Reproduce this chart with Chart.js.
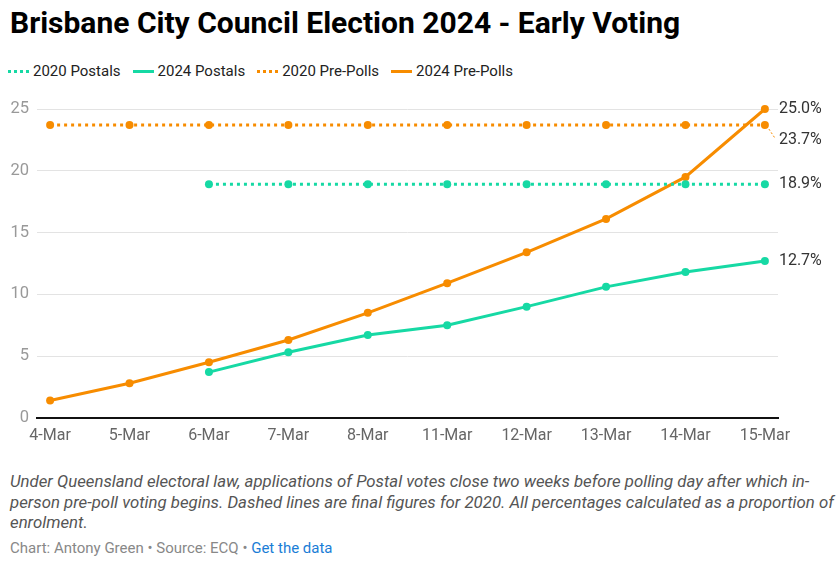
<!DOCTYPE html>
<html>
<head>
<meta charset="utf-8">
<script src="https://cdn.jsdelivr.net/npm/chart.js@4"></script>
<style>
  body { margin: 0; background: #fff; font-family: Roboto, sans-serif; width: 840px; height: 561px; overflow: hidden; position: relative; }
  h1 { position: absolute; left: 10px; top: 5px; margin: 0; font-size: 30px; font-weight: 700; color: #000; white-space: nowrap; }
  #legend { position: absolute; left: 8px; top: 62px; font-size: 15px; color: #222; display: flex; align-items: center; }
  #legend .item { display: flex; align-items: center; margin-right: 12px; }
  #legend .swatch { width: 21px; height: 0; margin-right: 4px; }
  #wrap { position: absolute; left: 0; top: 90px; width: 840px; height: 365px; }
  #note { position: absolute; left: 10px; top: 471px; width: 826px; font-size: 16.8px; font-style: italic; color: #555; line-height: 20.5px; }
  #source { position: absolute; left: 10px; top: 539px; font-size: 15px; color: #888; }
  #source span { color: #1a7dd6; }
</style>
</head>
<body>
<h1>Brisbane City Council Election 2024 - Early Voting</h1>
<div id="legend"></div>
<div id="wrap"><canvas id="myChart"></canvas></div>
<div id="note">Under Queensland electoral law, applications of Postal votes close two weeks before polling day after which in-person pre-poll voting begins. Dashed lines are final figures for 2020. All percentages calculated as a proportion of enrolment.</div>
<div id="source">Chart: Antony Green • Source: ECQ • <span>Get the data</span></div>
<script>
let dates = ['4-Mar', '5-Mar', '6-Mar', '7-Mar', '8-Mar', '11-Mar', '12-Mar', '13-Mar', '14-Mar', '15-Mar']
let postals2020 = [null, null, 18.9, 18.9, 18.9, 18.9, 18.9, 18.9, 18.9, 18.9]
let postals2024 = [null, null, 3.7, 5.3, 6.7, 7.5, 9.0, 10.6, 11.8, 12.7]
let prepolls2020 = [23.7, 23.7, 23.7, 23.7, 23.7, 23.7, 23.7, 23.7, 23.7, 23.7]
let prepolls2024 = [1.4, 2.8, 4.5, 6.3, 8.5, 10.9, 13.4, 16.1, 19.5, 25.0]
let yTicks = [0, 5, 10, 15, 20, 25]

let teal = '#16d9a4'
let orange = '#f78c00'

function toPoints(arr) {
  return arr.map((v, i) => ({ x: i, y: v })).filter((p) => p.y !== null)
}

let series = [
  { label: '2020 Postals', data: postals2020, color: teal, dashed: true, dy: 0 },
  { label: '2024 Postals', data: postals2024, color: teal, dashed: false, dy: 0 },
  { label: '2020 Pre-Polls', data: prepolls2020, color: orange, dashed: true, dy: 15 },
  { label: '2024 Pre-Polls', data: prepolls2024, color: orange, dashed: false, dy: 0 }
]

// html legend
let legend = document.getElementById('legend')
series.forEach((s) => {
  let item = document.createElement('div')
  item.className = 'item'
  let sw = document.createElement('span')
  sw.className = 'swatch'
  sw.style.borderTop = (s.dashed ? '3px dotted ' : '3px solid ') + s.color
  item.appendChild(sw)
  let t = document.createElement('span')
  t.textContent = s.label
  item.appendChild(t)
  legend.appendChild(item)
})

let endLabels = {
  id: 'endLabels',
  afterDatasetsDraw(chart) {
    let ctx = chart.ctx
    ctx.save()
    ctx.font = '16px Roboto'
    ctx.fillStyle = '#333'
    ctx.textBaseline = 'middle'
    chart.data.datasets.forEach((ds, i) => {
      let meta = chart.getDatasetMeta(i)
      let last = meta.data[meta.data.length - 1]
      let value = ds.data[ds.data.length - 1].y
      let dy = series[i].dy
      if (dy) {
        ctx.strokeStyle = ds.borderColor
        ctx.lineWidth = 1
        ctx.setLineDash([2, 2])
        ctx.beginPath()
        ctx.moveTo(last.x + 4, last.y + 4)
        ctx.lineTo(last.x + 10, last.y + dy - 2)
        ctx.stroke()
        ctx.setLineDash([])
      }
      ctx.fillText(value.toFixed(1) + '%', last.x + 14, last.y + dy)
    })
    ctx.restore()
  }
}

Chart.defaults.font.family = 'Roboto'
Chart.defaults.font.size = 16

let myChart = document.getElementById('myChart').getContext('2d')
let chart = new Chart(myChart, {
  type: 'line',
  data: {
    datasets: series.map((s) => ({
      label: s.label,
      data: toPoints(s.data),
      borderColor: s.color,
      backgroundColor: s.color,
      borderWidth: 3,
      borderDash: s.dashed ? [3, 4] : [],
      pointRadius: 4,
      pointHoverRadius: 4,
      pointBorderWidth: 0,
      tension: 0,
      clip: false
    }))
  },
  options: {
    responsive: true,
    maintainAspectRatio: false,
    animation: false,
    layout: { padding: { left: 0, right: 62, top: 19, bottom: 0 } },
    plugins: { legend: { display: false }, tooltip: { enabled: false } },
    scales: {
      x: {
        type: 'linear',
        min: -0.165,
        max: 9.165,
        afterBuildTicks: (scale) => {
          scale.ticks = dates.map((d, i) => ({ value: i }))
        },
        ticks: {
          color: '#666',
          padding: 9,
          autoSkip: false,
          maxRotation: 0,
          callback: (v) => dates[v]
        },
        grid: { display: false, drawTicks: false },
        border: { color: '#111', width: 2 }
      },
      y: {
        min: 0,
        max: 25,
        afterBuildTicks: (scale) => {
          scale.ticks = yTicks.map((v) => ({ value: v }))
        },
        afterFit: (scale) => {
          scale.width = 37
        },
        ticks: { color: '#999', padding: 8, font: { size: 16.5 } },
        grid: { color: '#e3e3e3', drawTicks: false },
        border: { display: false }
      }
    }
  },
  plugins: [endLabels]
})
</script>
</body>
</html>
